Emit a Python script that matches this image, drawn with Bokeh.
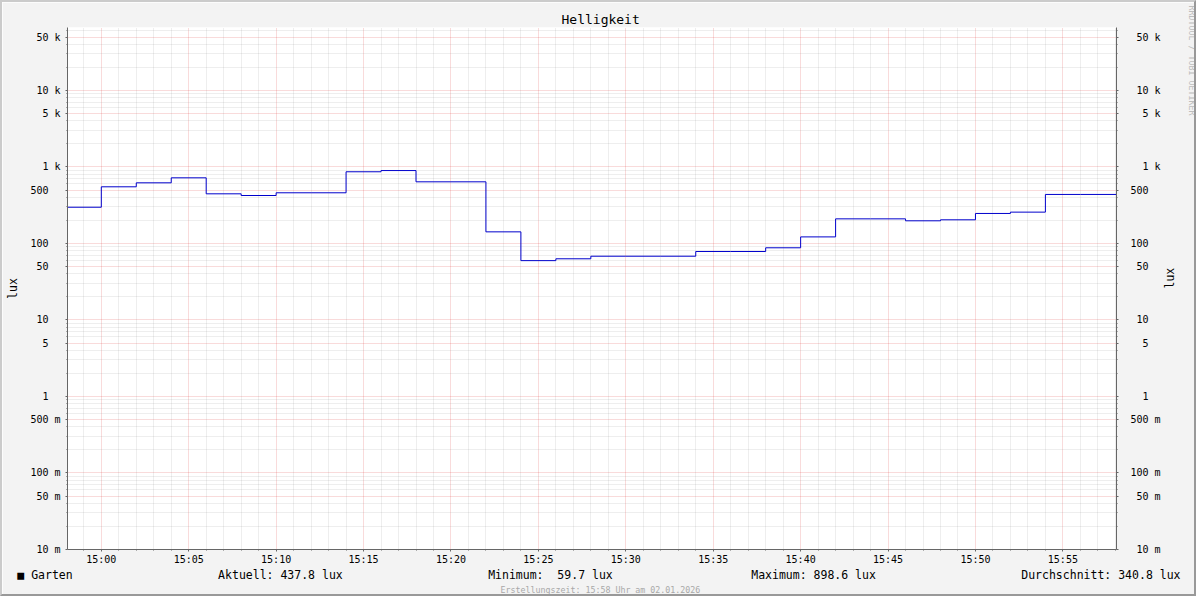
import math
import pandas as pd
from bokeh.plotting import figure
from bokeh.models import (Range1d, LogAxis, FixedTicker, DatetimeTickFormatter,
                          CustomJSTickFormatter, ColumnDataSource, Title)
from bokeh.embed import file_html
from bokeh.resources import INLINE

# ---------------- data ----------------
chart_title = "Helligkeit"
series_name = "Garten"
unit = "lux"
day = "2026-01-02"
range_start = "14:58:04"
range_end = "15:58:04"

times = ["14:58", "15:00", "15:02", "15:04", "15:06", "15:08", "15:10", "15:12",
         "15:14", "15:16", "15:18", "15:20", "15:22", "15:24", "15:26", "15:28",
         "15:30", "15:32", "15:34", "15:36", "15:38", "15:40", "15:42", "15:44",
         "15:46", "15:48", "15:50", "15:52", "15:54", "15:56"]
values = [298, 551, 621, 722, 446, 424, 460, 460,
          866, 898.6, 640, 640, 142, 59.7, 63.1, 68.2,
          68.2, 68.2, 78.6, 78.6, 87.9, 122, 210, 210,
          198, 204, 247, 257, 437.8, 437.8]

y_ticks = [0.01, 0.05, 0.1, 0.5, 1, 5, 10, 50, 100, 500, 1000, 5000, 10000, 50000]
y_tick_labels = ["10 m", "50 m", "100 m", "500 m", "1", "5", "10", "50", "100",
                 "500", "1 k", "5 k", "10 k", "50 k"]
y_min, y_max = 0.01, 66600

stat_names = ["Aktuell:", "Minimum:", "Maximum:", "Durchschnitt:"]
stat_values = [437.8, 59.7, 898.6, 340.8]
footer = "Erstellungszeit: 15:58 Uhr am 02.01.2026"
watermark = "RRDTOOL / TOBI OETIKER"

# ---------------- derived ----------------
t = pd.to_datetime([f"{day} {x}" for x in times])
t0 = pd.Timestamp(f"{day} {range_start}")
t1 = pd.Timestamp(f"{day} {range_end}")
xs = list(t) + [t1]
ys = values + [values[-1]]
src = ColumnDataSource(dict(t=xs, v=ys))

NB = "\u00a0"
def pad(lab):
    parts = lab.split(" ")
    num = parts[0]
    suf = parts[1] if len(parts) > 1 else NB
    return (num.rjust(3) + " " + suf).replace(" ", NB)
padded = [pad(l) for l in y_tick_labels]

# legend row (monospace columns), with the colour swatch in front
stat_cols = [27, 66, 104, 143]
row = series_name
for n, v, c in zip(stat_names, stat_values, stat_cols):
    row += NB * max(1, c - len(row)) + f"{n} {v:5.1f} {unit}".replace("  ", NB + NB)
row = NB * 2 + "\u25a0" + NB + row

y_minor = [m * 10.0 ** e for e in range(-2, 5) for m in (2, 3, 4, 6, 7, 8, 9)]
x_major = [int(x.value // 10**6) for x in pd.date_range(f"{day} 15:00", f"{day} 15:55", freq="5min")]
x_minor = [int(x.value // 10**6) for x in pd.date_range(f"{day} 14:59", f"{day} 15:58", freq="1min")]
x_minor = [m for m in x_minor if m not in x_major]

FONT = "DejaVu Sans Mono"
AXIS_C = "#666666"

W, H = 1196, 596
ML, MR, MT, MB = 65, 81, 25, 49

p = figure(width=W, height=H, x_axis_type="datetime", y_axis_type="log",
           x_range=Range1d(t0, t1), y_range=Range1d(y_min, y_max),
           output_backend="svg", toolbar_location=None,
           min_border_left=ML, min_border_right=MR, min_border_top=MT, min_border_bottom=MB,
           background_fill_color="white", border_fill_color="#F3F3F3",
           outline_line_color=None)
p.styles = {"border-style": "solid", "border-width": "2px",
            "border-color": "#CBCBCB #999999 #999999 #CBCBCB"}

yt = FixedTicker(ticks=y_ticks, minor_ticks=y_minor)
yfmt = CustomJSTickFormatter(args=dict(vals=y_ticks, labs=padded), code="""
for (let i = 0; i < vals.length; i++) {
  if (Math.abs(tick / vals[i] - 1) < 1e-6) return labs[i];
}
return "";
""")
xt = FixedTicker(ticks=x_major, minor_ticks=x_minor)
xfmt = DatetimeTickFormatter(minutes="%H:%M", hourmin="%H:%M", hours="%H:%M",
                             minsec="%H:%M", seconds="%H:%M", days="%H:%M")

p.yaxis.ticker = yt
p.yaxis.formatter = yfmt
p.xaxis.ticker = xt
p.xaxis.formatter = xfmt

right = LogAxis(ticker=yt, formatter=yfmt)
p.add_layout(right, "right")

for ax in [p.xaxis[0], p.yaxis[0], right]:
    ax.axis_line_color = AXIS_C
    ax.major_tick_line_color = AXIS_C
    ax.minor_tick_line_color = AXIS_C
    ax.major_tick_out = 2
    ax.major_tick_in = 0
    ax.minor_tick_out = 1
    ax.minor_tick_in = 0
    ax.major_label_text_font = FONT
    ax.major_label_text_font_size = "10px"
    ax.major_label_text_color = "black"
    ax.axis_label_text_font = FONT
    ax.axis_label_text_font_size = "11.5px"
    ax.axis_label_text_font_style = "normal"
    ax.axis_label_text_color = "black"

p.yaxis[0].axis_label = unit
p.yaxis[0].major_label_standoff = 5
p.yaxis[0].axis_label_standoff = 7
right.axis_label = unit
right.major_label_standoff = 12
right.axis_label_standoff = 6
right.axis_label_orientation = math.pi / 2
p.xaxis[0].major_label_standoff = 2
p.xaxis[0].axis_label = row
p.xaxis[0].axis_label_standoff = 0

for g in [p.xgrid[0], p.ygrid[0]]:
    g.grid_line_color = "#DE3030"
    g.grid_line_alpha = 0.35
    g.grid_line_dash = "1 1"
    g.minor_grid_line_color = "#8F8F8F"
    g.minor_grid_line_alpha = 0.3
    g.minor_grid_line_dash = "1 1"

p.step(x="t", y="v", source=src, mode="after", line_color="#0000CC", line_width=1)

p.add_layout(Title(text=footer, align="left", offset=433, standoff=0, vertical_align="top",
                   text_font=FONT, text_font_size="8.3px", text_font_style="normal",
                   text_color="#A8A8A8"), "below")
p.add_layout(Title(text=chart_title, align="left", offset=494, standoff=1,
                   text_font=FONT, text_font_size="13px", text_font_style="normal",
                   text_color="black"), "above")
p.add_layout(Title(text=watermark, align="left", offset=-22, standoff=0,
                   text_font=FONT, text_font_size="8.3px", text_font_style="normal",
                   text_color="#BDBDBD"), "right")

open("out.html", "w").write(file_html(p, INLINE))
